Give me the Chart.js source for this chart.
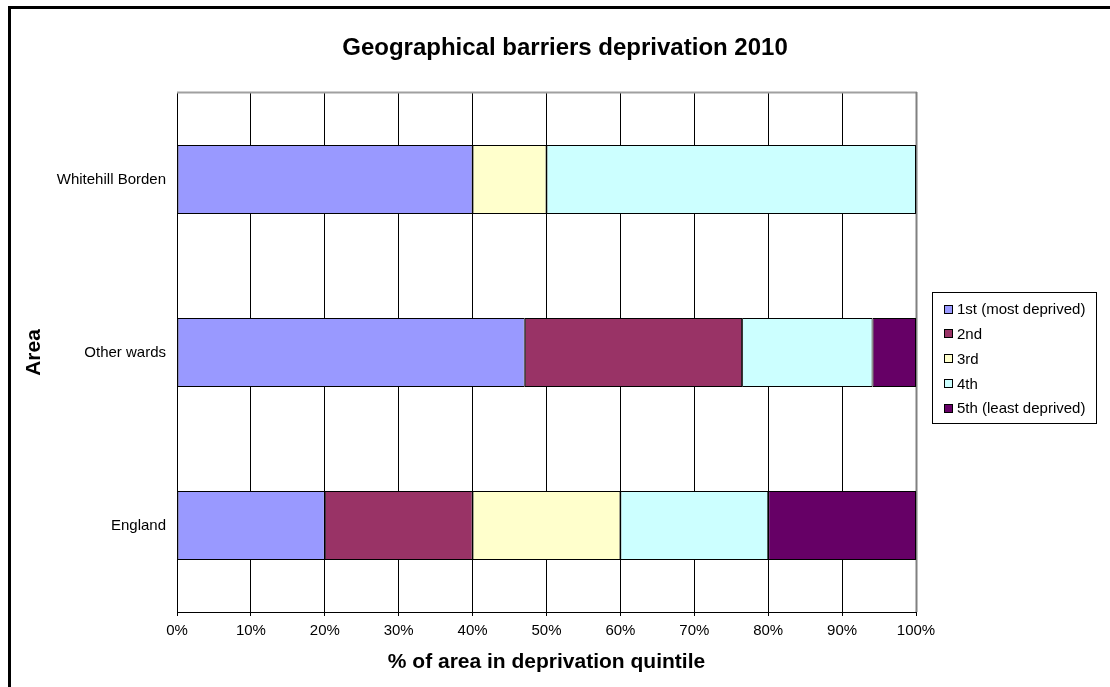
<!DOCTYPE html>
<html>
<head>
<meta charset="utf-8">
<script src="https://cdn.jsdelivr.net/npm/chart.js@4/dist/chart.umd.min.js"></script>
<style>
  html, body { margin: 0; padding: 0; background: #fff; }
  #wrap { position: relative; width: 1110px; height: 687px; }
  canvas { display: block; }
</style>
</head>
<body>
<div id="wrap"><canvas id="c" width="1110" height="687"></canvas></div>
<script>
// Areas compared (top to bottom)
const areas = ['Whitehill Borden', 'Other wards', 'England'];

// Share of each area's LSOAs in each deprivation quintile (%)
const quintileLabels = ['1st (most deprived)', '2nd', '3rd', '4th', '5th (least deprived)'];
const q1 = [40, 47.06, 20];
const q2 = [0, 29.41, 20];
const q3 = [10, 0, 20];
const q4 = [50, 17.65, 20];
const q5 = [0, 5.88, 20];

const quintileColors = ['#9999FF', '#993366', '#FFFFCC', '#CCFFFF', '#660066'];

const chartTitle = 'Geographical barriers deprivation 2010';
const xTitle = '% of area in deprivation quintile';
const yTitle = 'Area';

const FONT = '"Liberation Sans", Arial, Helvetica, sans-serif';

// Page frame, plot-area outline, main title and boxed legend
const decorations = {
  id: 'decorations',
  beforeDatasetsDraw(chart) {
    const { ctx, chartArea: a } = chart;
    ctx.save();
    ctx.strokeStyle = '#a0a0a0';
    ctx.lineWidth = 2;
    ctx.beginPath();
    ctx.moveTo(a.left, a.top - 0.5);
    ctx.lineTo(a.right + 1, a.top - 0.5);
    ctx.stroke();
    ctx.strokeStyle = '#808080';
    ctx.beginPath();
    ctx.moveTo(a.right + 0.5, a.top - 1);
    ctx.lineTo(a.right + 0.5, a.bottom);
    ctx.stroke();
    ctx.restore();
  },
  afterDraw(chart) {
    const { ctx } = chart;
    ctx.save();
    // outer frame (left and top edges)
    ctx.fillStyle = '#000';
    ctx.fillRect(8, 6, 3, 687 - 6);
    ctx.fillRect(8, 6, 1110 - 8, 3);

    // title
    ctx.fillStyle = '#000';
    ctx.font = 'bold 24px ' + FONT;
    ctx.textAlign = 'center';
    ctx.textBaseline = 'middle';
    ctx.fillText(chartTitle, 565, 48);

    // legend
    const lx = 932, ly = 292, lw = 164, lh = 131;
    ctx.strokeStyle = '#000';
    ctx.lineWidth = 1;
    ctx.strokeRect(lx + 0.5, ly + 0.5, lw, lh);
    ctx.font = '15px ' + FONT;
    ctx.textAlign = 'left';
    chart.data.datasets.forEach((ds, i) => {
      const cy = 309 + i * 24.8;
      const sy = Math.round(cy - 4.5);
      ctx.fillStyle = ds.backgroundColor;
      ctx.fillRect(944, sy, 9, 9);
      ctx.strokeStyle = '#000';
      ctx.strokeRect(944.5, sy + 0.5, 8, 8);
      ctx.fillStyle = '#000';
      ctx.fillText(ds.label, 957, cy + 1);
    });
    ctx.restore();
  }
};

const seriesValues = [q1, q2, q3, q4, q5];

new Chart(document.getElementById('c'), {
  type: 'bar',
  data: {
    labels: areas,
    datasets: quintileLabels.map((label, i) => ({
      label,
      data: seriesValues[i],
      backgroundColor: quintileColors[i],
      borderColor: '#000',
      borderWidth: 1,
      borderSkipped: false,
      inflateAmount: 0,
      barPercentage: 0.4,
      categoryPercentage: 1
    }))
  },
  options: {
    indexAxis: 'y',
    responsive: false,
    animation: false,
    devicePixelRatio: 1,
    layout: { padding: { left: 10, top: 93, right: 194, bottom: 0 } },
    plugins: {
      legend: { display: false },
      title: { display: false },
      tooltip: { enabled: false }
    },
    scales: {
      x: {
        stacked: true,
        min: 0,
        max: 100,
        ticks: {
          stepSize: 10,
          color: '#000',
          font: { family: FONT, size: 15 },
          padding: 6,
          callback: v => v + '%'
        },
        grid: {
          color: '#000',
          lineWidth: 1,
          drawTicks: true,
          tickLength: 4,
          tickColor: '#000'
        },
        border: { display: true, color: '#000', width: 1 },
        title: {
          display: true,
          text: xTitle,
          color: '#000',
          font: { family: FONT, size: 21, weight: 'bold' },
          padding: { top: 0, bottom: 12 }
        },
        afterFit(scale) { scale.height = 75; }
      },
      y: {
        stacked: true,
        ticks: {
          color: '#000',
          font: { family: FONT, size: 15 },
          padding: 11
        },
        grid: { display: false, drawTicks: false },
        border: { display: true, color: '#000', width: 1 },
        title: {
          display: true,
          text: yTitle,
          color: '#000',
          font: { family: FONT, size: 21, weight: 'bold' },
          padding: { top: 12, bottom: 0 }
        },
        afterFit(scale) { scale.width = 167; }
      }
    }
  },
  plugins: [decorations]
});
</script>
</body>
</html>
